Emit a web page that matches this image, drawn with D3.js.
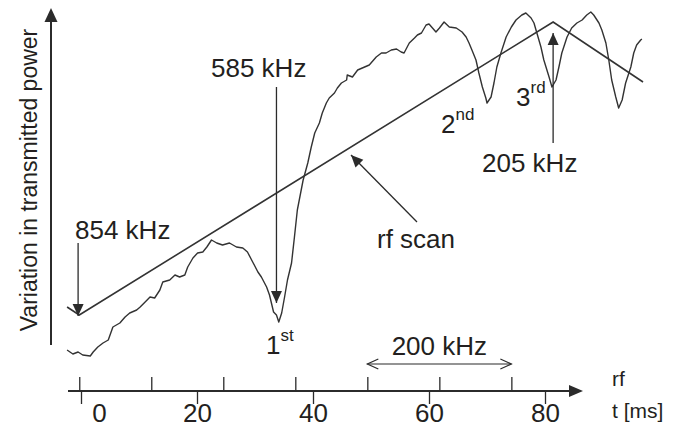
<!DOCTYPE html>
<html>
<head>
<meta charset="utf-8">
<script src="https://cdn.jsdelivr.net/npm/d3@7"></script>
<style>
  html, body { margin: 0; padding: 0; background: #fff; }
  svg { display: block; }
  text { font-family: Arial, "Liberation Sans", Helvetica, sans-serif; fill: #231f20; }
</style>
</head>
<body>
<svg id="chart" width="681" height="427"></svg>
<script>
// ---- data (time in ms, transmitted-power variation in arbitrary units) ----
const transT = [-2.4,-1.9,-1.4,-0.5,0.3,1.6,2.1,2.9,3.8,4.7,5.5,6.7,7.6,8.4,9.6,10.2,11.4,11.9,12.7,13.6,14.1,15.3,16.2,17.0,17.9,18.4,19.3,20.1,21.0,21.7,22.5,23.4,24.4,25.6,26.8,27.9,28.7,29.6,30.5,31.1,32.0,32.5,33.2,33.7,34.1,34.6,35.1,35.6,36.3,36.8,37.3,38.3,39.1,39.7,40.3,41.1,41.6,42.3,42.8,43.7,44.2,44.9,45.8,45.9,46.8,47.7,48.9,49.7,50.9,51.8,52.6,53.5,54.4,55.2,55.7,56.6,57.5,58.0,58.7,59.5,60.0,60.6,61.2,61.8,62.6,63.5,64.7,65.7,66.4,66.9,67.4,68.1,68.6,69.2,69.8,70.0,70.7,71.2,71.7,72.4,73.3,74.2,75.0,76.0,76.7,77.6,78.1,78.6,79.3,79.8,80.7,81.2,81.9,82.4,82.9,83.8,84.6,85.5,86.4,87.2,87.9,88.4,89.3,89.8,90.5,91.0,91.5,92.2,92.7,93.3,93.9,94.8,95.3,95.8,96.5,96.7];
const transPower = [5,3,1,3,0,-1,3,8,12,15,28,32,38,42,45,48,55,58,57,65,73,75,80,78,80,88,97,102,103,108,115,112,110,112,108,107,103,93,83,78,68,60,43,40,33,42,58,75,92,118,145,175,192,208,222,232,242,252,257,262,267,272,275,280,278,285,288,290,298,302,302,305,306,303,302,312,317,320,322,330,331,327,323,327,333,328,327,323,318,312,305,295,282,268,257,252,258,272,288,302,318,328,335,340,342,337,332,322,308,295,278,268,275,288,302,318,327,332,335,340,343,340,332,325,312,295,275,258,247,255,272,288,302,310,315,316];
const scanT = [-2.4,-0.3,81.4,96.9];
const scanPower = [48,40,333,273];
const tTicks = [0,20,40,60,80];
const rfTicksKHz = [854,754,654,554,454,354,254];

// ---- scales ----
const x = d3.scaleLinear().domain([0,80]).range([81,545]);
const y = d3.scaleLinear().domain([0,350]).range([355,5]);
const rf = d3.scaleLinear().domain([854,254]).range([x(-0.3), x(74.2)]);

const svg = d3.select("#chart");
const ink = "#2b2b2b";
const axisY = 391;

// ---- curves ----
const line = d3.line().x(d => x(d[0])).y(d => y(d[1]));
svg.append("path")
  .datum(d3.zip(scanT, scanPower))
  .attr("d", line).attr("fill","none").attr("stroke", "#333").attr("stroke-width",1.6);
svg.append("path")
  .datum(d3.zip(transT, transPower))
  .attr("d", line).attr("fill","none").attr("stroke", "#333").attr("stroke-width",1.4)
  .attr("stroke-linejoin","round");

// ---- helpers ----
function arrowHead(tipX, tipY, fromX, fromY, len, half) {
  const dx = tipX - fromX, dy = tipY - fromY, L = Math.hypot(dx, dy);
  const ux = dx / L, uy = dy / L, bx = tipX - ux*len, by = tipY - uy*len;
  const pts = [[tipX,tipY],[bx - uy*half, by + ux*half],[bx + uy*half, by - ux*half]];
  svg.append("path").attr("d", "M" + pts.map(p=>p.join(",")).join("L") + "Z").attr("fill", ink);
}
function arrow(fromX, fromY, tipX, tipY) {
  svg.append("line").attr("x1",fromX).attr("y1",fromY).attr("x2",tipX).attr("y2",tipY)
    .attr("stroke", ink).attr("stroke-width",1.3);
  arrowHead(tipX, tipY, fromX, fromY, 12, 5.5);
}

// ---- y axis ----
svg.append("line").attr("x1",51).attr("x2",51).attr("y1",345).attr("y2",18)
  .attr("stroke", ink).attr("stroke-width",2);
arrowHead(51, 8, 51, 100, 14, 6.5);
svg.append("text").attr("transform","translate(37,180) rotate(-90)")
  .attr("text-anchor","middle").attr("font-size",23).text("Variation in transmitted power");

// ---- x axis (t and rf) ----
svg.append("line").attr("x1",68).attr("x2",572).attr("y1",axisY).attr("y2",axisY)
  .attr("stroke", ink).attr("stroke-width",2);
arrowHead(583, axisY, 500, axisY, 14, 6);

const tAxis = svg.append("g").attr("transform",`translate(0,${axisY})`)
  .call(d3.axisBottom(x).tickValues(tTicks).tickSize(13).tickPadding(0).tickFormat(d3.format("d")));
tAxis.select(".domain").remove();
tAxis.selectAll(".tick line").attr("stroke", ink).attr("stroke-width",1.3);
tAxis.selectAll(".tick text").attr("font-size",26).attr("fill","#231f20")
  .attr("font-family","Arial, 'Liberation Sans', Helvetica, sans-serif")
  .attr("y", 13).attr("dy","0.7em")
  .attr("dx", d => d === 0 ? 18 : 0);

const rfAxis = svg.append("g").attr("transform",`translate(0,${axisY})`)
  .call(d3.axisTop(rf).tickValues(rfTicksKHz).tickSize(14).tickFormat(""));
rfAxis.select(".domain").remove();
rfAxis.selectAll(".tick line").attr("stroke", ink).attr("stroke-width",1.3);

svg.append("text").attr("x",612).attr("y",386).attr("font-size",21).text("rf");
svg.append("text").attr("x",612).attr("y",418).attr("font-size",21).text("t [ms]");

// ---- 200 kHz span ----
const spanY = 364, x1 = rf(454), x2 = rf(254);
svg.append("line").attr("x1",x1).attr("x2",x2).attr("y1",spanY).attr("y2",spanY)
  .attr("stroke", ink).attr("stroke-width",1.2);
svg.append("path").attr("d",`M${x1+11},${spanY-5}L${x1},${spanY}L${x1+11},${spanY+5}`)
  .attr("fill","none").attr("stroke", ink).attr("stroke-width",1.2);
svg.append("path").attr("d",`M${x2-11},${spanY-5}L${x2},${spanY}L${x2-11},${spanY+5}`)
  .attr("fill","none").attr("stroke", ink).attr("stroke-width",1.2);
svg.append("text").attr("x",(x1+x2)/2).attr("y",355).attr("text-anchor","middle").attr("font-size",26).text("200 kHz");

// ---- annotations ----
svg.append("text").attr("x",75).attr("y",239).attr("font-size",26).text("854 kHz");
arrow(x(-0.5), 243, x(-0.5), 316);

svg.append("text").attr("x",211).attr("y",77).attr("font-size",26).text("585 kHz");
arrow(x(33.7), 87, x(33.7), 303);

svg.append("text").attr("x",482).attr("y",172).attr("font-size",26).text("205 kHz");
arrow(x(81.4), 143, x(81.4), 33);

svg.append("text").attr("x",377).attr("y",248).attr("font-size",26).text("rf scan");
arrow(417, 222, 351, 155);

function ordinal(xp, yp, num, sup) {
  const t = svg.append("text").attr("x",xp).attr("y",yp).attr("font-size",26);
  t.append("tspan").text(num);
  t.append("tspan").attr("font-size",17).attr("dy",-13).text(sup);
}
ordinal(266, 354, "1", "st");
ordinal(441, 133, "2", "nd");
ordinal(516, 106, "3", "rd");
</script>
</body>
</html>
